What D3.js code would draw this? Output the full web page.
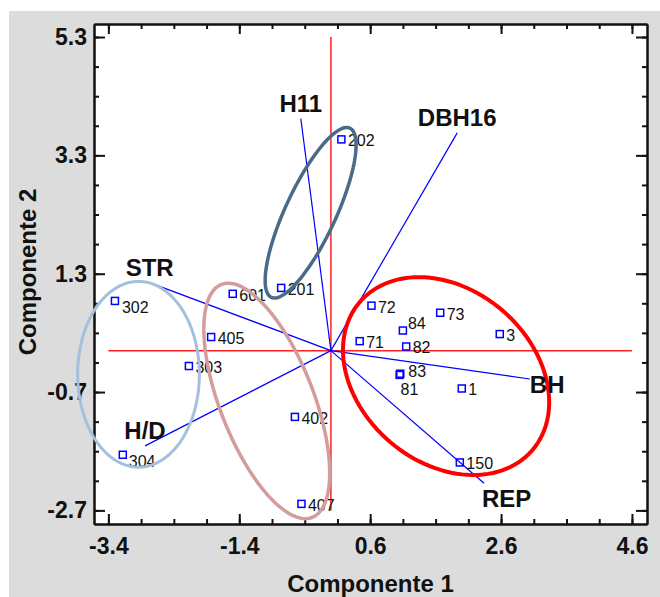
<!DOCTYPE html>
<html>
<head>
<meta charset="utf-8">
<script src="https://cdnjs.cloudflare.com/ajax/libs/d3/7.8.5/d3.min.js"></script>
<style>
body { margin: 0; background: #fff; }
svg { display: block; }
</style>
</head>
<body>
<div class="biplot"></div>
<script>
// observations (component scores)
const obsNames = ["202","201","601","302","405","303","304","402","407","72","73","84","3","71","82","83","81","1","150"]
const obsX = [0.16,-0.76,-1.50,-3.30,-1.83,-2.17,-3.18,-0.55,-0.45,0.62,1.67,1.10,2.58,0.44,1.15,1.06,1.05,2.00,1.97]
const obsY = [3.57,1.06,0.96,0.84,0.23,-0.26,-1.76,-1.12,-2.59,0.76,0.64,0.34,0.28,0.16,0.07,-0.39,-0.41,-0.64,-1.89]

// variable vectors (end points)
const varNames = ["H11","DBH16","STR","H/D","BH","REP"]
const varX = [-0.46,1.93,-2.77,-2.84,3.04,2.34]
const varY = [3.92,3.68,1.15,-1.61,-0.48,-2.24]

const xTicks = [-3.4,-1.4,0.6,2.6,4.6]
const yTicks = [-2.7,-0.7,1.3,3.3,5.3]

// group ellipses: centre + two conjugate semi-axes, in data units
const groupCenter = [[-0.31,2.33],[-2.94,-0.40],[-0.98,-0.85],[1.76,-0.43]]
const groupAxisA = [[0.60,1.43],[0.93,0],[0.69,-1.97],[1.32,-1.25]]
const groupAxisB = [[0.35,-0.18],[0,-1.57],[-0.67,-0.28],[-0.86,-1.11]]

const svgWidth = 660
const svgHeight = 597
const plotL = 94, plotR = 647, plotT = 24, plotB = 524
const font = "'Liberation Sans', Arial, sans-serif"

const svg = d3.select(".biplot").append("svg")
    .attr("width", svgWidth)
    .attr("height", svgHeight)

svg.append("rect")
    .attr("x", 9).attr("y", 11)
    .attr("width", svgWidth - 9).attr("height", svgHeight - 11)
    .attr("fill", "#dcdcdc")

svg.append("rect")
    .attr("x", plotL).attr("y", plotT)
    .attr("width", plotR - plotL).attr("height", plotB - plotT)
    .attr("fill", "#fff")

const xScale = d3.scaleLinear().domain([-3.62, 4.83]).range([plotL, plotR])
const yScale = d3.scaleLinear().domain([-2.93, 5.52]).range([plotB, plotT])

const xMinor = d3.range(17).map(i => +(xTicks[0] + i * 0.5).toFixed(1))
const yMinor = d3.range(17).map(i => +(yTicks[0] + i * 0.5).toFixed(1))

// ticks on all four sides, pointing inward
function drawAxis(axis, scale, pos, values, size, labels) {
    const g = svg.append("g")
        .attr("transform", pos)
        .call(axis(scale).tickValues(values).tickSize(-size).tickSizeOuter(0)
            .tickPadding(labels === "x" ? 14 : 7)
            .tickFormat(labels ? d => d.toFixed(1) : ""))
    g.selectAll("line").attr("stroke", "#111").attr("stroke-width", 2)
    g.select(".domain").attr("stroke", "#111").attr("stroke-width", 2)
    g.selectAll("text")
        .attr("font-family", font)
        .attr("font-size", "23px")
        .attr("font-weight", "bold")
        .attr("fill", "#111")
    return g
}

drawAxis(d3.axisBottom, xScale, `translate(0,${plotB})`, xMinor, 5, null)
drawAxis(d3.axisBottom, xScale, `translate(0,${plotB})`, xTicks, 10, "x")
drawAxis(d3.axisTop, xScale, `translate(0,${plotT})`, xMinor, 5, null)
drawAxis(d3.axisTop, xScale, `translate(0,${plotT})`, xTicks, 10, null)
drawAxis(d3.axisLeft, yScale, `translate(${plotL},0)`, yMinor, 5, null)
drawAxis(d3.axisLeft, yScale, `translate(${plotL},0)`, yTicks, 11, "y")
drawAxis(d3.axisRight, yScale, `translate(${plotR},0)`, yMinor, 5, null)
drawAxis(d3.axisRight, yScale, `translate(${plotR},0)`, yTicks, 11, null)

// red cross through origin
svg.append("line")
    .attr("x1", xScale(0)).attr("x2", xScale(0))
    .attr("y1", yScale(yTicks[0])).attr("y2", yScale(yTicks[yTicks.length - 1]))
    .attr("stroke", "#ff2020").attr("stroke-width", 1.5)
svg.append("line")
    .attr("x1", xScale(xTicks[0])).attr("x2", xScale(xTicks[xTicks.length - 1]))
    .attr("y1", yScale(0)).attr("y2", yScale(0))
    .attr("stroke", "#ff2020").attr("stroke-width", 1.5)

// variable vectors
varNames.forEach((name, i) => {
    svg.append("line")
        .attr("x1", xScale(0)).attr("y1", yScale(0))
        .attr("x2", xScale(varX[i])).attr("y2", yScale(varY[i]))
        .attr("stroke", "#0000ff")
        .attr("stroke-width", 1.2)
})

// observation markers + labels
const labelShift = { "84": [5, -1.5], "83": [8, 3], "81": [1, 20], "302": [7, 12], "304": [6, 12] }
obsNames.forEach((name, i) => {
    const px = xScale(obsX[i]), py = yScale(obsY[i])
    svg.append("rect")
        .attr("x", px - 3.5).attr("y", py - 3.5)
        .attr("width", 7).attr("height", 7)
        .attr("fill", "none")
        .attr("stroke", "#0000ff")
        .attr("stroke-width", 1.5)
    const s = labelShift[name] || [6.5, 7]
    svg.append("text")
        .attr("x", px + s[0]).attr("y", py + s[1])
        .attr("font-family", font)
        .attr("font-size", "16px")
        .attr("fill", "#111")
        .text(name)
})

// group ellipses (drawn over labels like in the original)
const groupColors = ["#4b6a88", "#a4c0de", "#d49c9b", "#ff0000"]
const groupWidths = [3.5, 3, 3.5, 4]
const ellipseLine = d3.line().x(d => xScale(d[0])).y(d => yScale(d[1])).curve(d3.curveLinearClosed)
groupCenter.forEach((c, i) => {
    const a = groupAxisA[i], b = groupAxisB[i]
    const pts = d3.range(120).map(k => {
        const t = k / 120 * 2 * Math.PI
        return [c[0] + a[0] * Math.cos(t) + b[0] * Math.sin(t),
                c[1] + a[1] * Math.cos(t) + b[1] * Math.sin(t)]
    })
    svg.append("path")
        .attr("d", ellipseLine(pts))
        .attr("fill", "none")
        .attr("stroke", groupColors[i])
        .attr("stroke-width", groupWidths[i])
})

// vector labels
const varPlace = { "BH": ["start", 0, 14], "REP": ["start", -2, 24] }
varNames.forEach((name, i) => {
    const p = varPlace[name] || ["middle", 0, -7]
    svg.append("text")
        .attr("x", xScale(varX[i]) + p[1])
        .attr("y", yScale(varY[i]) + p[2])
        .attr("text-anchor", p[0])
        .attr("font-family", font)
        .attr("font-size", "24px")
        .attr("font-weight", "bold")
        .attr("fill", "#111")
        .text(name)
})

// axis titles
svg.append("text")
    .attr("x", (plotL + plotR) / 2).attr("y", 592)
    .attr("text-anchor", "middle")
    .attr("font-family", font).attr("font-size", "24px").attr("font-weight", "bold")
    .attr("fill", "#111")
    .text("Componente 1")

svg.append("text")
    .attr("transform", `translate(36,${(plotT + plotB) / 2 - 2}) rotate(-90)`)
    .attr("text-anchor", "middle")
    .attr("font-family", font).attr("font-size", "24px").attr("font-weight", "bold")
    .attr("fill", "#111")
    .text("Componente 2")
</script>
</body>
</html>
